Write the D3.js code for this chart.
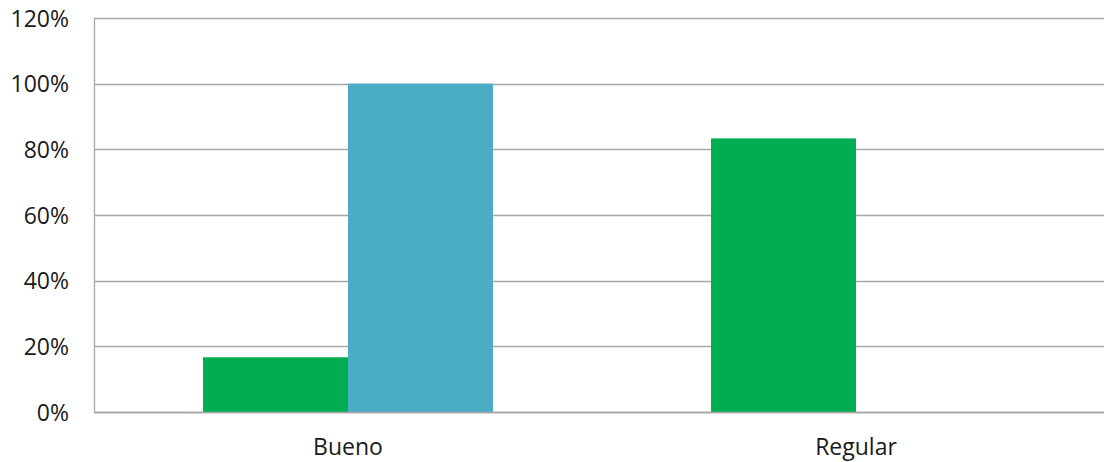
<!DOCTYPE html>
<html><head><meta charset="utf-8">
<script src="https://cdn.jsdelivr.net/npm/d3@7"></script>
<style>body{margin:0;background:#fff}svg{display:block}text{font-family:"Open Sans","Noto Sans",sans-serif;fill:#1a1a1a}</style>
</head><body><svg id="c" width="1104" height="462"></svg>
<script>
const categories = ["Bueno", "Regular"];
const seriesNames = ["Serie 1", "Serie 2"];
const serie1 = [0.1667, 0.8333];
const serie2 = [1.0, 0.0];
const yTicks = [0, 0.2, 0.4, 0.6, 0.8, 1.0, 1.2];
const colors = ["#00AD50", "#4BACC6"];

(function () {
const svg = d3.select("#c");
const mLeft = 94, mTop = 18, mBottom = 412, bandW = 508;
const x = d3.scaleBand().domain(categories).range([mLeft, mLeft + bandW * categories.length]).padding(0);
const xs = d3.scaleBand().domain(seriesNames).range([0, bandW]).paddingInner(0).paddingOuter(0.752);
const y = d3.scaleLinear().domain([0, 1.2]).range([mBottom, mTop]);

svg.append("g").selectAll("line").data(yTicks).join("line")
  .attr("x1", mLeft).attr("x2", 1104)
  .attr("y1", d => Math.round(y(d)) + 0.5).attr("y2", d => Math.round(y(d)) + 0.5)
  .attr("stroke", "#a6a6a6").attr("stroke-width", 1.3);

const data = [];
categories.forEach((c, i) => {
  data.push({c, s: seriesNames[0], v: serie1[i], k: 0});
  data.push({c, s: seriesNames[1], v: serie2[i], k: 1});
});
svg.append("g").selectAll("rect").data(data.filter(d => d.v > 0)).join("rect")
  .attr("x", d => x(d.c) + xs(d.s))
  .attr("width", xs.bandwidth())
  .attr("y", d => y(d.v))
  .attr("height", d => y(0) - y(d.v))
  .attr("fill", d => colors[d.k]);

svg.append("line").attr("x1", mLeft + 0.5).attr("x2", mLeft + 0.5).attr("y1", mTop).attr("y2", mBottom + 1)
  .attr("stroke", "#a6a6a6").attr("stroke-width", 1.3);
svg.append("line").attr("x1", mLeft).attr("x2", 1104).attr("y1", Math.round(y(0)) + 0.5).attr("y2", Math.round(y(0)) + 0.5)
  .attr("stroke", "#a6a6a6").attr("stroke-width", 1.3);

svg.append("g").selectAll("text").data(yTicks).join("text")
  .attr("x", 69).attr("y", d => y(d) + 8.5)
  .attr("text-anchor", "end").attr("font-size", 23)
  .text(d => d3.format(".0%")(d));

svg.append("g").selectAll("text").data(categories).join("text")
  .attr("x", d => x(d) + x.bandwidth() / 2).attr("y", 455)
  .attr("text-anchor", "middle").attr("font-size", 23)
  .text(d => d);
})();
</script></body></html>
